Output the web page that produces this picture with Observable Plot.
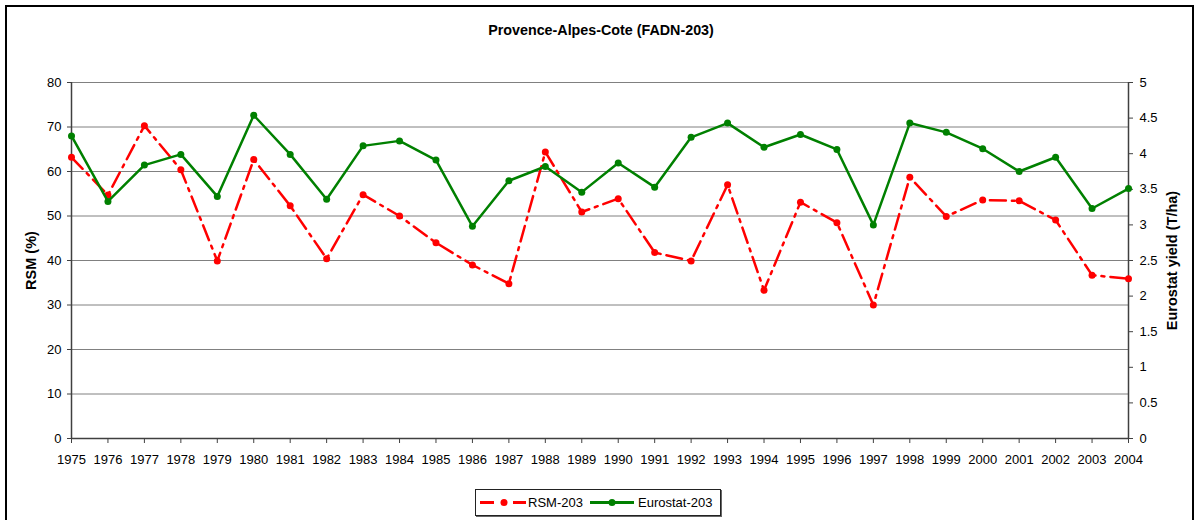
<!DOCTYPE html>
<html><head><meta charset="utf-8">
<script src="https://cdn.jsdelivr.net/npm/d3@7"></script>
<script src="https://cdn.jsdelivr.net/npm/@observablehq/plot@0.6"></script>
<style>
body{margin:0;background:#fff;}
#wrap{position:relative;width:1195px;height:520px;overflow:hidden;font-family:"Liberation Sans",Arial,sans-serif;color:#000;}
#frame{position:absolute;left:5px;top:5px;width:1189px;height:540px;border:2px solid #000;box-sizing:border-box;}
#title{position:absolute;top:22px;left:0;width:1202px;text-align:center;font-weight:bold;font-size:14.3px;line-height:17px;}
#chart{position:absolute;left:0;top:0;}
#legend{position:absolute;left:475px;top:489px;width:246px;height:27px;border:1px solid #222;box-sizing:border-box;box-shadow:1px 1px 0 #666;font-size:13px;line-height:25px;white-space:nowrap;background:#fff;}
#legend span{position:absolute;top:0;}
#legend svg{position:absolute;top:0;}
g[aria-label="y-axis label"] text{font-weight:bold;font-size:14.5px;}
</style></head>
<body><div id="wrap"><div id="frame"></div><div id="title">Provence-Alpes-Cote (FADN-203)</div><div id="chart"></div><div id="legend"></div></div>
<script>
const years = [1975,1976,1977,1978,1979,1980,1981,1982,1983,1984,1985,1986,1987,1988,1989,1990,1991,1992,1993,1994,1995,1996,1997,1998,1999,2000,2001,2002,2003,2004];
const rsm = [63.2,54.7,70.3,60.4,39.9,62.7,52.3,40.4,54.8,50.0,44.0,39.0,34.8,64.4,50.9,53.9,41.8,39.9,57.0,33.3,53.1,48.5,30.0,58.7,49.9,53.6,53.4,49.1,36.7,35.9];
const eurostat = [4.25,3.33,3.84,3.99,3.40,4.54,3.99,3.36,4.11,4.18,3.91,2.98,3.62,3.82,3.46,3.87,3.53,4.23,4.43,4.09,4.27,4.06,3.00,4.43,4.30,4.07,3.75,3.95,3.23,3.51];
const leftTicks = [0,10,20,30,40,50,60,70,80];
const rightTicks = [0,0.5,1,1.5,2,2.5,3,3.5,4,4.5,5];
const seriesNames = ["RSM-203","Eurostat-203"];
const colors = ["#ff0000","#008000"];
const ratio = 80/5; // left axis max / right axis max

const data = years.map((y,i)=>({year:y, rsm:rsm[i], eu:eurostat[i]}));

const chart = Plot.plot({
  width:1195, height:480,
  marginLeft:71, marginRight:67, marginTop:82, marginBottom:42,
  style:{fontFamily:'"Liberation Sans",Arial,sans-serif', fontSize:"13px", color:"#000", background:"transparent", overflow:"visible"},
  x:{type:"linear", domain:[1975,2004]},
  y:{domain:[0,80]},
  marks:[
    Plot.gridY({ticks:leftTicks, stroke:"#808080", strokeOpacity:1, strokeWidth:1}),
    Plot.ruleX([1975], {stroke:"#404040", strokeWidth:1.5}),
    Plot.ruleX([2004], {stroke:"#404040", strokeWidth:1.5}),
    Plot.ruleY([0], {stroke:"#404040", strokeWidth:1.5}),
    Plot.axisX({ticks:years, tickFormat:d3.format("d"), tickSize:5, tickPadding:11, label:null, stroke:"#404040"}),
    Plot.axisY({anchor:"left", ticks:leftTicks, tickSize:4, tickPadding:6, label:"RSM (%)", labelAnchor:"center", labelArrow:"none", labelOffset:46, stroke:"#404040"}),
    Plot.axisY({anchor:"right", ticks:rightTicks.map(v=>v*ratio), tickFormat:v=>d3.format("~g")(v/ratio), tickSize:4, tickPadding:7, label:"Eurostat yield (T/ha)", labelAnchor:"center", labelArrow:"none", labelOffset:48, stroke:"#404040"}),
    Plot.line(data, {x:"year", y:"rsm", stroke:colors[0], strokeWidth:2.5, strokeDasharray:"16,6,3,6"}),
    Plot.dot(data, {x:"year", y:"rsm", fill:colors[0], r:3.5}),
    Plot.line(data, {x:"year", y:d=>d.eu*ratio, stroke:colors[1], strokeWidth:2.5}),
    Plot.dot(data, {x:"year", y:d=>d.eu*ratio, fill:colors[1], r:3.5})
  ]
});
document.getElementById("chart").appendChild(chart);

// legend
const lg = document.getElementById("legend");
lg.innerHTML =
 `<svg width="46" height="25" style="left:4px"><line x1="0" y1="12.5" x2="46" y2="12.5" stroke="${colors[0]}" stroke-width="3" stroke-dasharray="14,10,3,6"/><circle cx="24" cy="12.5" r="3.5" fill="${colors[0]}"/></svg>` +
 `<span style="left:52px">${seriesNames[0]}</span>` +
 `<svg width="44" height="25" style="left:114px"><line x1="0" y1="12.5" x2="44" y2="12.5" stroke="${colors[1]}" stroke-width="3"/><circle cx="22" cy="12.5" r="3.5" fill="${colors[1]}"/></svg>` +
 `<span style="left:162px">${seriesNames[1]}</span>`;
</script>
</body></html>
